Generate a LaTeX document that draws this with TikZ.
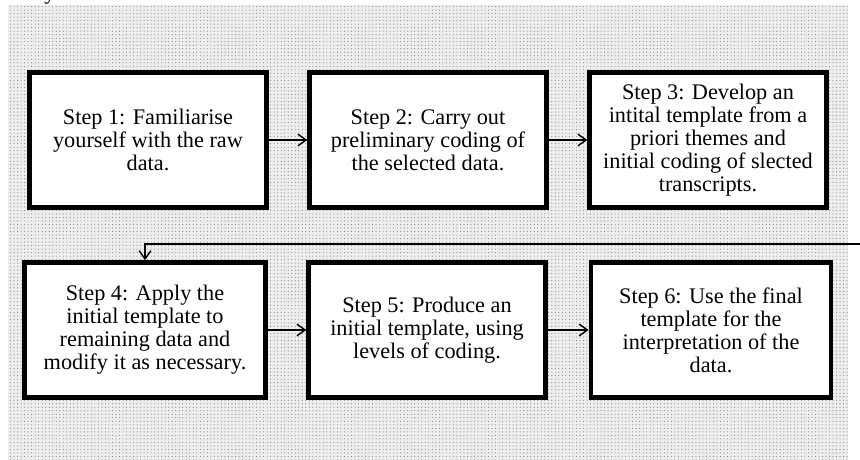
\documentclass[tikz,border=0pt]{standalone}
\usepackage{fontspec}
\setmainfont{Liberation Serif}
\usetikzlibrary{arrows.meta,patterns}
\definecolor{dotgray}{rgb}{0.55,0.55,0.55}
\definecolor{bggray}{rgb}{0.93,0.93,0.93}

\begin{document}
\begin{tikzpicture}
    [x=0.03cm,y=-0.03cm,
     stepbox/.style={draw,line width=4pt,fill=white,align=center,minimum width=7.1cm,minimum height=4.05cm,font=\fontsize{19}{19.6}\selectfont},
     link/.style={-{Straight Barb[length=7pt,width=10pt]},line width=1.2pt}]

    \useasboundingbox (0,0) rectangle (860,460);
    \fill[bggray] (8,5) rectangle (848,460);
    \fill[pattern=dots,pattern color=dotgray] (8,5) rectangle (848,460);
    \node[anchor=base,font=\fontsize{19}{19.6}\selectfont] (cut) at (50,0) {y};

\node[stepbox] (s1) at (148,140) {Step 1: Familiarise\\yourself with the raw\\data.};
\node[stepbox] (s2) at (428,140) {Step 2: Carry out\\preliminary coding of\\the selected data.};
\node[stepbox] (s3) at (708,140) {Step 3: Develop an\\intital template from a\\priori themes and\\initial coding of slected\\transcripts.};

\node[stepbox,minimum width=7.25cm] (s4) at (145,330) {Step 4: Apply the\\initial template to\\remaining data and\\modify it as necessary.};
\node[stepbox] (s5) at (427,330) {Step 5: Produce an\\initial template, using\\levels of coding.};
\node[stepbox,minimum width=7.2cm] (s6) at (711,330) {Step 6: Use the final\\template for the\\interpretation of the\\data.};

\coordinate (loopin) at (860,244);

\draw[link] (s1) -- (s2);
\draw[link] (s2) -- (s3);
\draw[link] (loopin) -| (s4);
\draw[link] (s4) -- (s5);
\draw[link] (s5) -- (s6);

  \end{tikzpicture}
\end{document}
